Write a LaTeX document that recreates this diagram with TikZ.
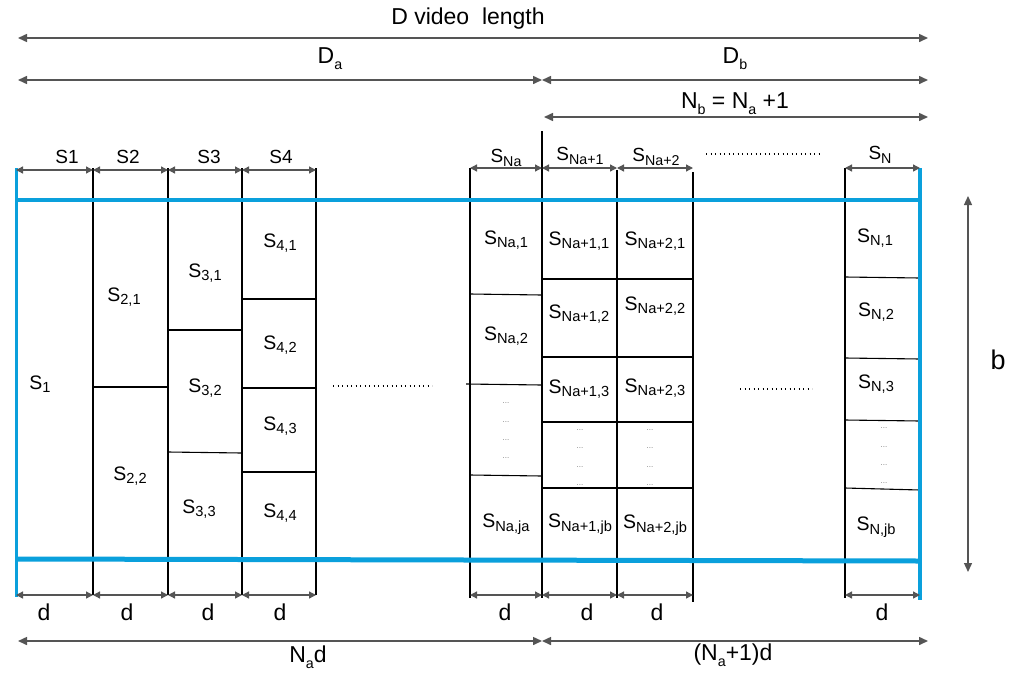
\documentclass[tikz,border=0pt]{standalone}
\usepackage{fontspec}
\setmainfont{Liberation Sans}
\usetikzlibrary{arrows.meta}
\definecolor{lblue}{HTML}{0AA0DC}
\definecolor{agray}{HTML}{555555}
\makeatletter
\newcommand{\Sb}[2]{#1\raisebox{-0.35ex}{\fontsize{\fpeval{0.75*\f@size}}{1}\selectfont #2}}
\newcommand{\Bs}[2]{#1\raisebox{-0.5ex}{\fontsize{\fpeval{0.62*\f@size}}{1}\selectfont #2}}
\makeatother
\begin{document}
\begin{tikzpicture}[x=1pt,y=-1pt,
  dim/.style={draw=agray,line width=1.5pt,{Triangle[length=9pt,width=8pt]}-{Triangle[length=9pt,width=8pt]}},
  small/.style={draw=agray,line width=1.3pt,{Triangle[length=7pt,width=7pt]}-{Triangle[length=7pt,width=7pt]}},
  bl/.style={draw=lblue,line width=#1},
  col/.style={draw=black,line width=2pt},
  cell/.style={draw=black,line width=1.1pt},
  lab/.style={inner sep=0pt,font=\fontsize{19.5}{22}\selectfont},
  tlab/.style={inner sep=0pt,font=\fontsize{19}{21}\selectfont},
  big/.style={inner sep=0pt,font=\fontsize{23}{25}\selectfont},
  dots/.style={inner sep=0pt,text=gray,font=\fontsize{8}{8}\selectfont},
  dotline/.style={draw=black,line width=1.3pt,dash pattern=on 1.3pt off 3.2pt}]
\useasboundingbox (0,0) rectangle (1019,672);
\fill[white] (0,0) rectangle (1019,672);

% column coordinates
\foreach \n/\x in {a/16,b/93,c/168,d/242,e/316,f/470,g/542,h/617,i/693,j/845,k/920}{
  \coordinate (t\n) at (\x,170);
  \coordinate (u\n) at (\x,595);
}

% top dimension arrows
\coordinate (L) at (18,38); \coordinate (R) at (928,38);
\draw[dim] (L) -- (R);
\node[big] (Dlen) at (468,19) {D video\ \ length};
\coordinate (La) at (18,80); \coordinate (Ma) at (542,80); \coordinate (Ra) at (928,80);
\draw[dim] (La) -- (Ma);
\draw[dim] (Ma) -- (Ra);
\node[big] (Da) at (330,59) {\Bs{D}{a}};
\node[big] (Db) at (735,59) {\Bs{D}{b}};
\coordinate (Nb1) at (544,117); \coordinate (Nb2) at (928,117);
\draw[dim] (Nb1) -- (Nb2);
\node[big] (Nb) at (735,104) {\Bs{N}{b} = \Bs{N}{a} +1};

% black column lines
\draw[col] (93,168) -- (93,595);
\draw[col] (168,168) -- (168,595);
\draw[col] (242,168) -- (242,595);
\draw[col] (316,168) -- (316,595);
\draw[col] (470,168) -- (470,598);
\draw[col] (542,131) -- (542,598);
\draw[col] (617,170) -- (617,598);
\draw[col] (693,172) -- (693,602);
\draw[col] (845,168) -- (845,598);

% cell dividers
\draw[cell] (93,387) -- (168,387);
\draw[cell] (168,330) -- (242,330);
\draw[cell] (168,452) -- (242,453);
\draw[cell] (242,299) -- (316,299);
\draw[cell] (242,388) -- (316,388);
\draw[cell] (242,472) -- (316,472);
\draw[cell] (470,294) -- (542,295);
\draw[cell] (466,384) -- (542,385);
\draw[cell] (470,475) -- (542,476);
\foreach \y in {279,357,422,488}{ \draw[cell] (542,\y) -- (693,\y); }
\draw[cell] (845,277) -- (920,278);
\draw[cell] (845,358) -- (920,359);
\draw[cell] (845,420) -- (920,421);
\draw[cell] (845,488) -- (920,490);

% blue frame
\draw[bl=3.5pt] (16,200) -- (920,200);
\draw[bl=5pt] (16,559) -- (920,561);
\draw[bl=3pt] (16,168) -- (16,597);
\draw[bl=4.5pt] (920,168) -- (920,600);

% segment arrows top
\draw[small] (ta) -- (tb); \draw[small] (tb) -- (tc); \draw[small] (tc) -- (td); \draw[small] (td) -- (te);
\draw[small] ([yshift=2pt]tf) -- ([yshift=2pt]tg); \draw[small] ([yshift=2pt]tg) -- ([yshift=2pt]th); \draw[small] ([yshift=2pt]th) -- ([yshift=2pt]ti);
\draw[small] ([yshift=2pt]tj) -- ([yshift=2pt]tk);
\node[tlab] (s1) at (67,157) {S1};
\node[tlab] (s2) at (128,157) {S2};
\node[tlab] (s3) at (209,157) {S3};
\node[tlab] (s4) at (281,157) {S4};
\node[tlab] (sna) at (506,158) {\Sb{S}{Na}};
\node[tlab] (sna1) at (580,156) {\Sb{S}{Na+1}};
\node[tlab] (sna2) at (656,157) {\Sb{S}{Na+2}};
\node[tlab] (sn) at (880,155) {\Sb{S}{N}};
\coordinate (dt1) at (706,154); \coordinate (dt2) at (822,154);
\draw[dotline] (dt1) -- (dt2);

% cell labels
\node[lab] (c1) at (40,384) {\Sb{S}{1}};
\node[lab] (c21) at (124,297) {\Sb{S}{2,1}};
\node[lab] (c22) at (130,476) {\Sb{S}{2,2}};
\node[lab] (c31) at (205,273) {\Sb{S}{3,1}};
\node[lab] (c32) at (205,388) {\Sb{S}{3,2}};
\node[lab] (c33) at (199,509) {\Sb{S}{3,3}};
\node[lab] (c41) at (280,243) {\Sb{S}{4,1}};
\node[lab] (c42) at (280,345) {\Sb{S}{4,2}};
\node[lab] (c43) at (280,426) {\Sb{S}{4,3}};
\node[lab] (c44) at (280,513) {\Sb{S}{4,4}};
\coordinate (dl1) at (333,386); \coordinate (dl2) at (432,386);
\draw[dotline] (dl1) -- (dl2);

\node[lab] (cna1) at (506,240) {\Sb{S}{Na,1}};
\node[lab] (cna2) at (506,336) {\Sb{S}{Na,2}};
\node[lab] (cnaj) at (506,524) {\Sb{S}{Na,ja}};
\node[lab] (cb1) at (579,241) {\Sb{S}{Na+1,1}};
\node[lab] (cb2) at (579,314) {\Sb{S}{Na+1,2}};
\node[lab] (cb3) at (579,389) {\Sb{S}{Na+1,3}};
\node[lab] (cbj) at (580,524) {\Sb{S}{Na+1,jb}};
\node[lab] (cc1) at (655,241) {\Sb{S}{Na+2,1}};
\node[lab] (cc2) at (655,306) {\Sb{S}{Na+2,2}};
\node[lab] (cc3) at (655,388) {\Sb{S}{Na+2,3}};
\node[lab] (ccj) at (655,525) {\Sb{S}{Na+2,jb}};
\coordinate (dr1) at (740,389); \coordinate (dr2) at (812,389);
\draw[dotline] (dr1) -- (dr2);
\node[lab] (cn1) at (875,238) {\Sb{S}{N,1}};
\node[lab] (cn2) at (876,312) {\Sb{S}{N,2}};
\node[lab] (cn3) at (876,384) {\Sb{S}{N,3}};
\node[lab] (cnj) at (876,527) {\Sb{S}{N,jb}};

% small dots
\foreach \y [count=\k] in {403,422,440,458}{ \node[dots] (pa\k) at (506,\y) {...}; }
\foreach \y [count=\k] in {430,448,467,485}{ \node[dots] (pb\k) at (580,\y) {...};
  \node[dots] (pc\k) at (650,\y) {...}; }
\foreach \y [count=\k] in {428,447,465,483}{ \node[dots] (pn\k) at (884,\y) {...}; }

% b arrow
\coordinate (bt) at (968,196); \coordinate (bb) at (968,572);
\draw[draw=agray,line width=1.3pt,{Triangle[length=9pt,width=8pt]}-{Triangle[length=9pt,width=8pt]}] (bt) -- (bb);
\node[inner sep=0pt,font=\fontsize{27}{29}\selectfont] (blab) at (998,360) {b};

% bottom d arrows
\draw[small] (ua) -- (ub); \draw[small] (ub) -- (uc); \draw[small] (uc) -- (ud); \draw[small] (ud) -- (ue);
\draw[small] (uf) -- (ug); \draw[small] (ug) -- (uh); \draw[small] (uh) -- (ui);
\draw[small] (uj) -- (uk);
\foreach \x [count=\k] in {44,127,208,280,505,587,657,882}{ \node[big] (d\k) at (\x,612) {d}; }

% bottom totals
\coordinate (B1) at (18,641); \coordinate (B2) at (542,641); \coordinate (B3) at (928,641);
\draw[dim] (B1) -- (B2);
\draw[dim] (B2) -- (B3);
\node[big] (nad) at (308,657) {\Bs{N}{a}d};
\node[big] (na1d) at (733,655) {(\Bs{N}{a}+1)d};
\end{tikzpicture}
\end{document}
